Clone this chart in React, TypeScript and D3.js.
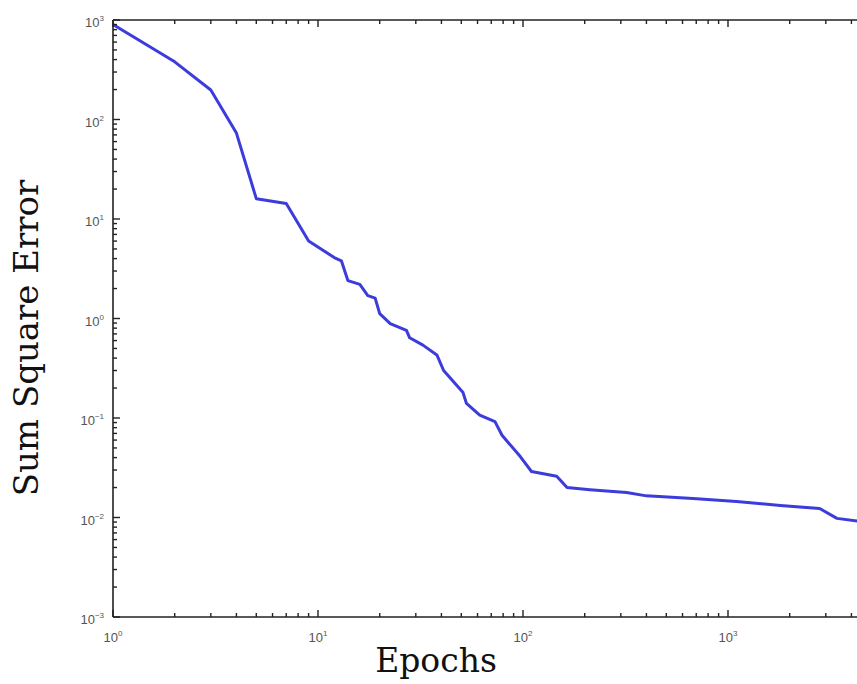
import React from 'react';
import * as d3 from 'd3';

// training error
const epochs = [1, 2, 3, 4, 5, 7, 9, 12, 13, 14, 16, 17.5, 19, 20, 22.5, 27, 28, 32.5, 38, 41, 51, 53, 61.5, 73, 79, 97, 110, 146, 164, 212, 320, 400, 675, 1100, 1800, 2800, 3400, 4300];
const sse = [900, 380, 198, 73, 16, 14.3, 6.0, 4.1, 3.8, 2.4, 2.2, 1.7, 1.6, 1.12, 0.89, 0.76, 0.64, 0.54, 0.43, 0.3, 0.18, 0.14, 0.107, 0.092, 0.067, 0.041, 0.029, 0.026, 0.02, 0.019, 0.0178, 0.0165, 0.0155, 0.0145, 0.0132, 0.0123, 0.0098, 0.0092];

const xDecades = [0, 1, 2, 3];
const yDecades = [-3, -2, -1, 0, 1, 2, 3];

const W = 857;
const H = 684;
const left = 113;
const top = 20;
const bottom = 617;
const decadeW = 205;

function translate(x: number, y: number) {
  return `translate(${x}, ${y})`;
}

function Pow({ e }: { e: number }) {
  return (
    <>
      10
      <tspan fontSize={8} dy={-6}>
        {e < 0 ? '\u2212' + Math.abs(e) : e}
      </tspan>
    </>
  );
}

export default function App() {
  const xMax = 5000;
  const x = d3.scaleLog().domain([1, xMax]).range([left, left + decadeW * Math.log10(xMax)]);
  const y = d3.scaleLog().domain([1e-3, 1e3]).range([bottom, top]);
  const right = x(xMax);

  const line = d3
    .line<number>()
    .x((d, i) => x(epochs[i]))
    .y((d) => y(d));

  const xTicks: { v: number; major: boolean }[] = [];
  xDecades.forEach((d) => {
    for (let k = 1; k < 10; k++) {
      const v = k * Math.pow(10, d);
      if (v <= xMax) xTicks.push({ v, major: k === 1 });
    }
  });
  const yTicks: { v: number; major: boolean }[] = [];
  yDecades.forEach((d) => {
    for (let k = 1; k < 10; k++) {
      if (d === 3 && k > 1) break;
      yTicks.push({ v: k * Math.pow(10, d), major: k === 1 });
    }
  });

  const tickFont = 'Liberation Sans, Arial, sans-serif';

  return (
    <svg
      width={W}
      height={H}
      style={{ position: 'absolute', left: 0, top: 0, background: '#fff' }}
    >
      <path d={line(sse) || ''} fill="none" stroke="#3c3cdc" strokeWidth={3} strokeLinejoin="round" />

      {/* frame */}
      <g stroke="#222" strokeWidth={1.6} fill="none">
        <line x1={left} x2={right} y1={top} y2={top} />
        <line x1={left} x2={right} y1={bottom} y2={bottom} />
        <line x1={left} x2={left} y1={top} y2={bottom} />
      </g>

      <g stroke="#222" strokeWidth={1.4}>
        {xTicks.map((t, i) => (
          <g key={'x' + i}>
            <line x1={x(t.v)} x2={x(t.v)} y1={bottom} y2={bottom - (t.major ? 7 : 4)} />
            <line x1={x(t.v)} x2={x(t.v)} y1={top} y2={top + (t.major ? 7 : 4)} />
          </g>
        ))}
        {yTicks.map((t, i) => (
          <line key={'y' + i} x1={left} x2={left + (t.major ? 7 : 4)} y1={y(t.v)} y2={y(t.v)} />
        ))}
      </g>

      <g fontFamily={tickFont} fontSize={13} fill="#555">
        {xDecades.map((d) => (
          <text key={d} transform={translate(x(Math.pow(10, d)), 642)} textAnchor="middle">
            <Pow e={d} />
          </text>
        ))}
        {yDecades.map((d) => (
          <text key={d} transform={translate(104, y(Math.pow(10, d)) + 7)} textAnchor="end">
            <Pow e={d} />
          </text>
        ))}
      </g>

      <text
        transform={translate(436, 672)}
        textAnchor="middle"
        fontFamily="DejaVu Serif, serif"
        fontSize={33}
        fill="#111"
      >
        Epochs
      </text>
      <text
        transform={translate(38, 338) + ' rotate(-90)'}
        textAnchor="middle"
        fontFamily="DejaVu Serif, serif"
        fontSize={34}
        fill="#111"
      >
        Sum Square Error
      </text>
    </svg>
  );
}
